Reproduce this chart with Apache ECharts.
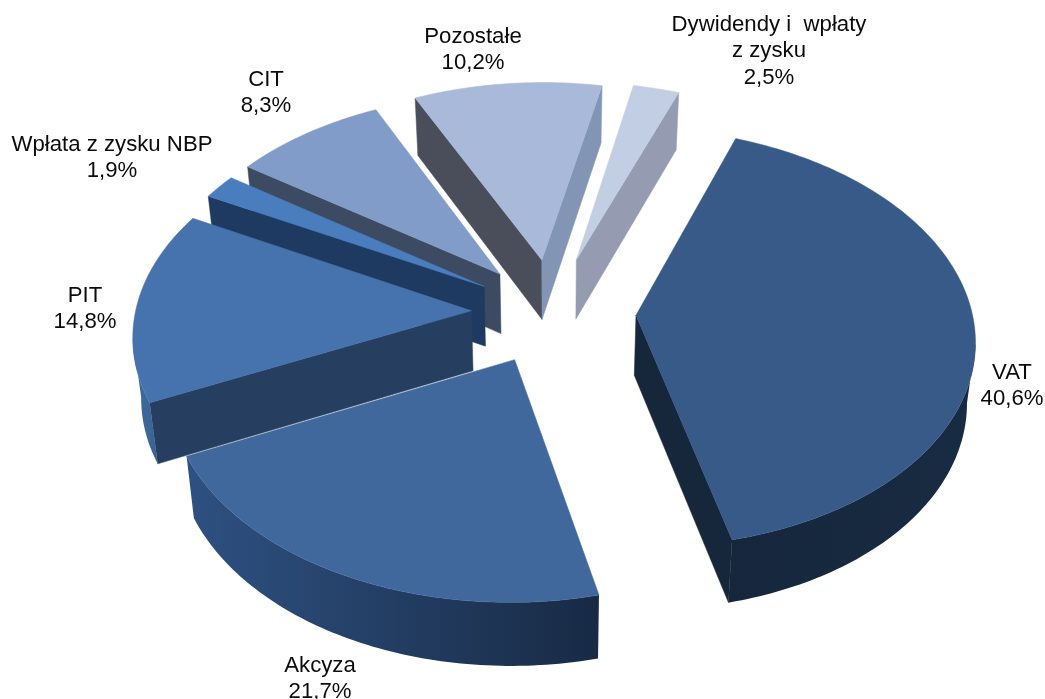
<!DOCTYPE html>
<html>
<head>
<meta charset="utf-8">
<title>Struktura dochodów budżetu</title>
<script src="https://cdn.jsdelivr.net/npm/echarts@6/dist/echarts.min.js"></script>
<style>html,body{margin:0;padding:0;background:#fff}#chart{width:1045px;height:699px}</style>
</head>
<body>
<div id="chart"></div>
<script>
// Budget revenue shares, clockwise from the VAT slice
var categories = ['VAT', 'Akcyza', 'PIT', 'Wpłata z zysku NBP', 'CIT', 'Pozostałe', 'Dywidendy i  wpłaty\nz zysku'];
var shares = [40.6, 21.7, 14.8, 1.9, 8.3, 10.2, 2.5];

// Per-slice appearance
var topColors = ['#375a88', '#41689d', '#4673ad', '#4a7dbd', '#819cc9', '#a9b9da', '#c2cee3'];
var arcColors = [['#16273c', '#172b42'], ['#2e5182', '#182a44'], ['#3f6a9f', '#3a6294'], ['#1f3a60', '#1f3a60'], ['#3c4a62', '#3c4a62'], ['#4a4f5c', '#4a4f5c'], ['#8f97ac', '#8f97ac']];
var startFace = ['#16273c', '#2c4a75', '#263f60', '#1e3a60', '#3c4a62', '#4a4e5a', '#8f97ac'];
var endFace = ['#16273c', '#1a2c47', '#263f60', '#1e3a60', '#3c4a62', '#8295b4', '#959cb1'];
var explode = [0.25, 0.25, 0.24, 0.24, 0.245, 0.26, 0.27];
var layer = [5, 6, 4, 3, 2, 1, 1];
var labelAnchors = [[1012, 386], [320, 679], [85, 309], [112, 158], [266, 93], [473, 50], [769, 51]];

var CX = 552, CY = 312, RX = 336, RY = 206.5, PERSP = 0.105, DEPTH = 60, START_DEG = 20.5;

function project(wx, wy) {
  var k = 1 / (1 - PERSP * wy);
  return [CX + RX * wx * k, CY + RY * wy * k, k];
}
function below(p) {
  return [CX + (p[0] - CX) * 0.98, p[1] + DEPTH * (0.6 + 0.4 * p[2])];
}

var total = shares.reduce(function (s, v) { return s + v; }, 0);

function renderSlice(params, api) {
  var i = params.dataIndex;
  var before = 0;
  for (var n = 0; n < i; n++) before += shares[n];
  var a0 = START_DEG + before / total * 360;
  var a1 = a0 + api.value(0) / total * 360;
  var mid = (a0 + a1) / 2 * Math.PI / 180;
  var ox = Math.sin(mid) * explode[i], oy = -Math.cos(mid) * explode[i];
  var apex = project(ox, oy);
  var arc = [];
  for (var d = a0; d < a1 + 0.001; d += Math.min(1, Math.max(a1 - d, 0.01))) {
    var t = d * Math.PI / 180;
    arc.push(project(ox + Math.sin(t), oy - Math.cos(t)));
    if (d >= a1) break;
  }
  var first = arc[0], last = arc[arc.length - 1];
  var z = layer[i] * 10;
  var kids = [];

  function addPoly(pts, fill, zz) {
    kids.push({
      type: 'polygon', shape: { points: pts.map(function (p) { return [p[0], p[1]]; }) },
      style: { fill: fill, stroke: typeof fill === 'string' ? fill : null, lineWidth: 0.5 }, z2: zz
    });
  }
  // Radial side faces show only when they look towards the viewer
  if (first[0] < apex[0]) addPoly([apex, first, below(first), below(apex)], startFace[i], z);
  if (apex[0] < last[0]) addPoly([last, apex, below(apex), below(last)], endFace[i], z + 1);

  // Outer wall: the stretch of the rim running right-to-left on screen is the front
  var front = [];
  for (var j = 0; j < arc.length - 1; j++) {
    if (arc[j + 1][0] < arc[j][0]) {
      if (!front.length) front.push(arc[j]);
      front.push(arc[j + 1]);
    }
  }
  if (front.length > 1) {
    addPoly(front.concat(front.slice().reverse().map(below)), {
      type: 'linear', x: 1, y: 0, x2: 0, y2: 0,
      colorStops: [{ offset: 0, color: arcColors[i][1] }, { offset: 1, color: arcColors[i][0] }]
    }, z + 2);
  }
  addPoly([apex].concat(arc), topColors[i], z + 3);

  var label = categories[i] + '\n' + api.value(0).toFixed(1).replace('.', ',') + '%';
  kids.push({
    type: 'text', x: labelAnchors[i][0], y: labelAnchors[i][1], z2: 100,
    style: { text: label, fill: '#0b0b0b', font: '22.2px "Liberation Sans", Arial, sans-serif', lineHeight: 26.5, align: 'center', verticalAlign: 'middle' }
  });
  return { type: 'group', children: kids };
}

var chart = echarts.init(document.getElementById('chart'), null, { renderer: 'canvas' });
chart.setOption({
  animation: false,
  backgroundColor: '#ffffff',
  series: [{
    type: 'custom',
    coordinateSystem: 'none',
    renderItem: renderSlice,
    encode: { value: 0 },
    data: shares.map(function (v, i) { return { name: categories[i], value: [v] }; })
  }]
});
</script>
</body>
</html>
